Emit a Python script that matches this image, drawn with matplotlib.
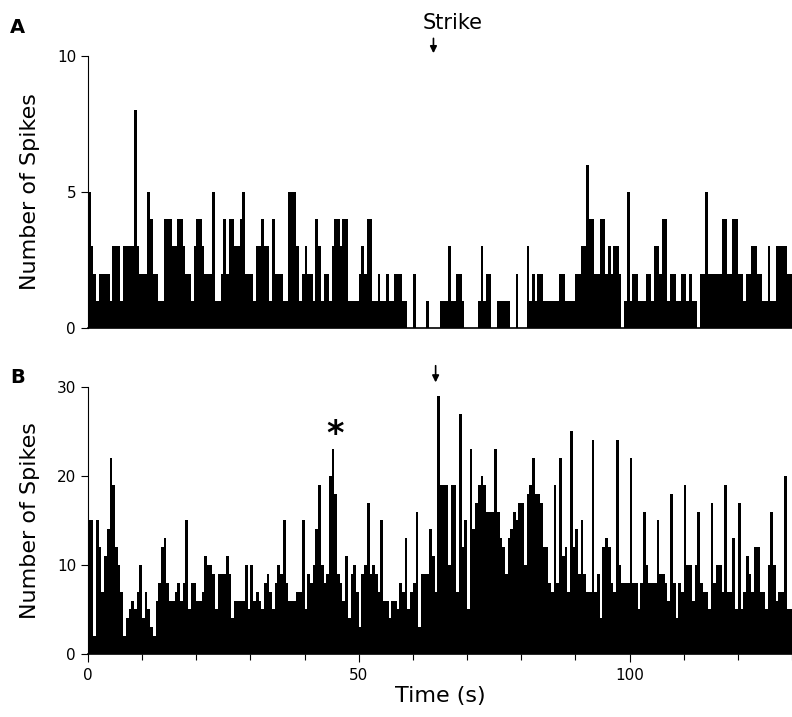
import numpy as np
import matplotlib
matplotlib.use("Agg")
import matplotlib.pyplot as plt
from matplotlib.ticker import MultipleLocator

# spike counts per 0.5 s bin
counts_a = [
    5, 3, 2, 1, 2, 2, 2, 2, 1, 3, 3, 3, 1, 3, 3, 3, 3, 8, 3, 2,
    2, 2, 5, 4, 2, 2, 1, 1, 4, 4, 4, 3, 3, 4, 4, 3, 2, 2, 1, 3,
    4, 4, 3, 2, 2, 2, 5, 1, 1, 2, 4, 2, 4, 4, 3, 3, 4, 5, 2, 2,
    2, 1, 3, 3, 4, 3, 3, 1, 4, 2, 2, 2, 1, 1, 5, 5, 5, 3, 1, 2,
    3, 2, 2, 1, 4, 3, 1, 2, 2, 1, 3, 4, 4, 3, 4, 4, 1, 1, 1, 1,
    2, 3, 2, 4, 4, 1, 1, 2, 1, 1, 2, 1, 1, 2, 2, 2, 1, 1, 0, 0,
    2, 0, 0, 0, 0, 1, 0, 0, 0, 0, 1, 1, 1, 3, 1, 1, 2, 2, 1, 0,
    0, 0, 0, 0, 1, 3, 1, 2, 2, 0, 0, 1, 1, 1, 1, 1, 0, 0, 2, 0,
    0, 0, 3, 1, 2, 1, 2, 2, 1, 1, 1, 1, 1, 1, 2, 2, 1, 1, 1, 1,
    2, 2, 3, 3, 6, 4, 4, 2, 2, 4, 4, 2, 3, 2, 3, 3, 2, 0, 1, 5,
    1, 2, 2, 1, 1, 1, 2, 2, 1, 3, 3, 2, 4, 4, 1, 2, 2, 1, 1, 2,
    2, 1, 2, 1, 1, 0, 2, 2, 5, 2, 2, 2, 2, 2, 4, 4, 2, 2, 4, 4,
    2, 2, 1, 2, 2, 3, 3, 2, 2, 1, 1, 3, 1, 1, 3, 3, 3, 3, 2, 2,
]
counts_b = [
    15, 15, 2, 15, 12, 7, 11, 14, 22, 19, 12, 10, 7, 2, 4, 5, 6, 5, 7, 10,
    4, 7, 5, 3, 2, 6, 8, 12, 13, 8, 6, 6, 7, 8, 6, 8, 15, 5, 8, 8,
    6, 6, 7, 11, 10, 10, 9, 5, 9, 9, 9, 11, 9, 4, 6, 6, 6, 6, 10, 5,
    10, 6, 7, 6, 5, 8, 9, 7, 5, 8, 10, 9, 15, 8, 6, 6, 6, 7, 7, 15,
    5, 9, 8, 10, 14, 19, 10, 8, 9, 20, 23, 18, 9, 8, 6, 11, 4, 9, 10, 7,
    3, 9, 10, 17, 9, 10, 9, 7, 15, 6, 6, 4, 6, 6, 5, 8, 7, 13, 5, 7,
    8, 16, 3, 9, 9, 9, 14, 11, 7, 29, 19, 19, 19, 10, 19, 19, 7, 27, 12, 15,
    5, 23, 14, 17, 19, 20, 19, 16, 16, 16, 23, 16, 13, 12, 9, 13, 14, 16, 15, 17,
    17, 10, 18, 19, 22, 18, 18, 17, 12, 12, 8, 7, 19, 8, 22, 11, 12, 7, 25, 12,
    14, 9, 15, 9, 7, 7, 24, 7, 9, 4, 12, 13, 12, 8, 7, 24, 10, 8, 8, 8,
    22, 8, 8, 5, 8, 16, 10, 8, 8, 8, 15, 9, 9, 8, 6, 18, 8, 4, 8, 7,
    19, 10, 10, 6, 10, 16, 8, 7, 7, 5, 17, 8, 10, 10, 7, 19, 7, 7, 13, 5,
    17, 5, 7, 11, 9, 7, 12, 12, 7, 7, 5, 10, 16, 10, 6, 7, 7, 20, 5, 5,
]
bin_width = 0.5
t_a = np.arange(len(counts_a)) * bin_width
t_b = np.arange(len(counts_b)) * bin_width

fig = plt.figure(figsize=(7.92, 7.17), dpi=100)
ax_a = fig.add_axes([0.111, 0.5425, 0.889, 0.3794])
ax_b = fig.add_axes([0.111, 0.0879, 0.889, 0.3724])

ax_a.bar(t_a, counts_a, width=bin_width, align="edge", color="black", linewidth=0)
ax_b.bar(t_b, counts_b, width=bin_width, align="edge", color="black", linewidth=0)

for ax in (ax_a, ax_b):
    ax.set_xlim(0, 130)
    ax.spines["top"].set_visible(False)
    ax.spines["right"].set_visible(False)
    ax.spines["left"].set_linewidth(0.8)
    ax.spines["bottom"].set_linewidth(1.2)
    ax.tick_params(direction="out", labelsize=11, length=5, width=0.8)
    ax.set_ylabel("Number of Spikes", fontsize=16, labelpad=12)

ax_a.set_ylim(0, 10)
ax_a.set_yticks([0, 5, 10])
ax_a.set_xticks([])

ax_b.set_ylim(0, 30)
ax_b.set_yticks([0, 10, 20, 30])
ax_b.xaxis.set_major_locator(MultipleLocator(50))
ax_b.xaxis.set_minor_locator(MultipleLocator(10))
ax_b.tick_params(axis="x", which="minor", direction="out", length=4, width=0.8)
ax_b.tick_params(axis="x", which="major", length=6, pad=4)
ax_b.set_xlabel("Time (s)", fontsize=16, labelpad=2)

# strike markers
ax_a.annotate("", xy=(63.8, 10.0), xytext=(63.8, 10.75),
              arrowprops=dict(arrowstyle="-|>", color="black", lw=1.2, mutation_scale=10),
              annotation_clip=False)
ax_a.text(61.8, 10.85, "Strike", fontsize=15, ha="left", va="bottom", clip_on=False)
ax_b.annotate("", xy=(64.2, 30.2), xytext=(64.2, 32.7),
              arrowprops=dict(arrowstyle="-|>", color="black", lw=1.2, mutation_scale=10),
              annotation_clip=False)
ax_b.text(45.6, 24.7, "*", fontsize=24, fontweight="bold", ha="center", va="center")

fig.text(0.022, 0.962, "A", fontsize=14, fontweight="bold", ha="center", va="center")
fig.text(0.022, 0.473, "B", fontsize=14, fontweight="bold", ha="center", va="center")

fig.savefig("out.png", dpi=100)
